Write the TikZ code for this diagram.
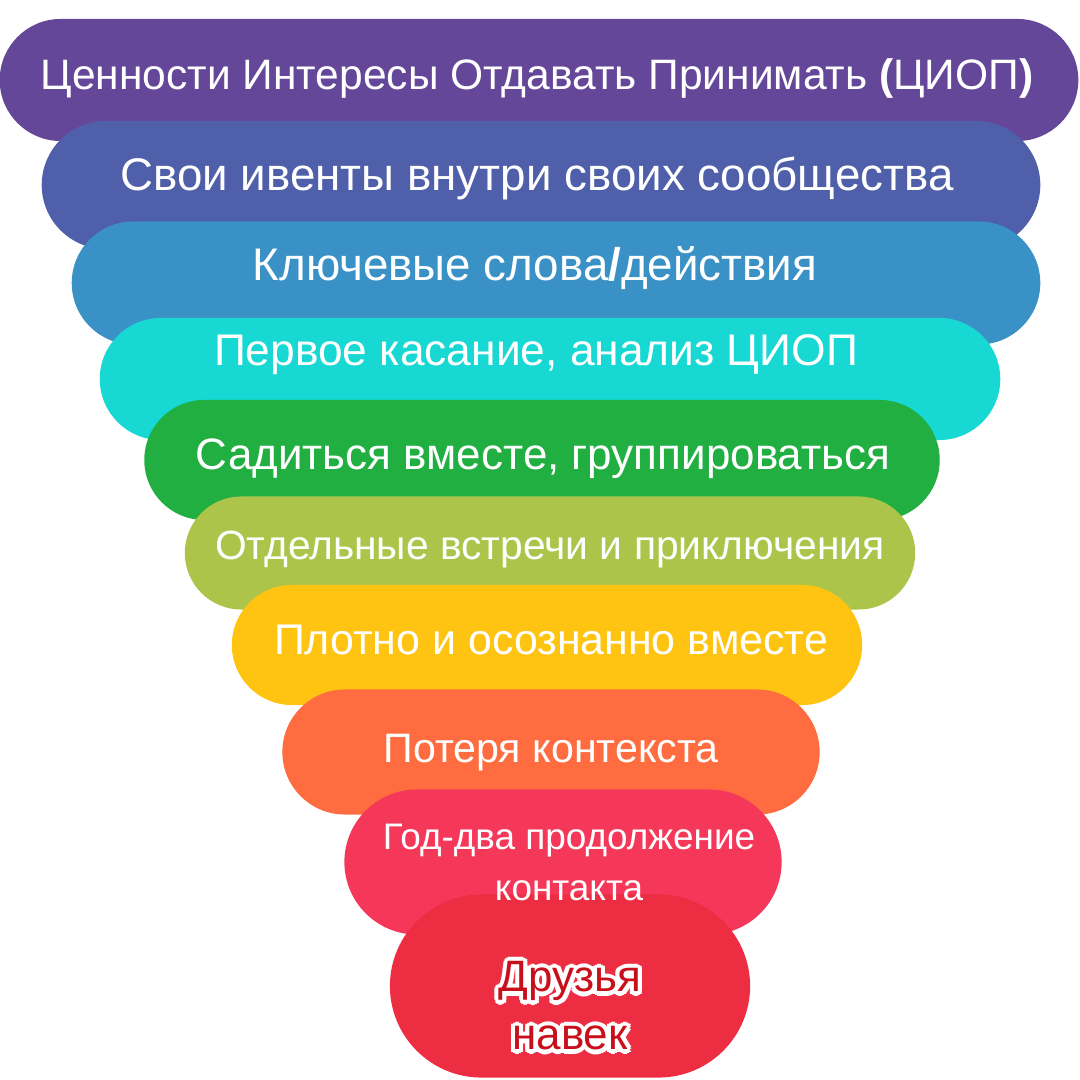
\documentclass[tikz,border=0pt]{standalone}
\usepackage{fontspec}
\setmainfont{Liberation Sans}
\usetikzlibrary{shapes.misc}

\definecolor{purplelayer}{HTML}{65479A}
\definecolor{bluelayer}{HTML}{4F5FA9}
\definecolor{steellayer}{HTML}{3A91C5}
\definecolor{cyanlayer}{HTML}{17D8D3}
\definecolor{greenlayer}{HTML}{20AF40}
\definecolor{olivelayer}{HTML}{ADC44A}
\definecolor{amberlayer}{HTML}{FFC312}
\definecolor{orangelayer}{HTML}{FF6C40}
\definecolor{pinklayer}{HTML}{F5385A}
\definecolor{redlayer}{HTML}{EC2D42}
\definecolor{darkred}{HTML}{C8101C}

\begin{document}
\begin{tikzpicture}[x=0.01cm, y=-0.01cm,
        blob/.style={rounded rectangle, fill=#1, inner sep=0pt},
        txt/.style={text=white, inner sep=0pt, font=\fontsize{#1}{#1}\selectfont}]
        \useasboundingbox (0,0) rectangle (1080,1080);

        % Layers of the funnel
        \node[blob=purplelayer, minimum width=10.78cm, minimum height=1.22cm] (l1) at (539,80) {};
        \node[blob=bluelayer, minimum width=9.98cm, minimum height=1.28cm] (l2) at (541,185) {};
        \node[blob=steellayer, minimum width=9.68cm, minimum height=1.23cm] (l3) at (556,283) {};
        \node[blob=cyanlayer, minimum width=9.00cm, minimum height=1.22cm] (l4) at (550,379) {};
        \node[blob=greenlayer, minimum width=7.95cm, minimum height=1.20cm] (l5) at (542,460) {};
        \node[blob=olivelayer, minimum width=7.30cm, minimum height=1.13cm] (l6) at (550,553) {};
        \node[blob=amberlayer, minimum width=6.30cm, minimum height=1.20cm] (l7) at (547,645) {};
        \node[blob=orangelayer, minimum width=5.37cm, minimum height=1.25cm] (l8) at (551,752) {};
        \node[blob=pinklayer, minimum width=4.37cm, minimum height=1.45cm] (l9) at (563,862) {};
        \node[blob=redlayer, minimum width=3.60cm, minimum height=1.83cm] (l10) at (570,986) {};

        % Labels
        \node[txt=12.1] (t1) at (537,79) {Ценности Интересы Отдавать Принимать \textbf{(}ЦИОП\textbf{)}};
        \node[txt=13] (t2) at (537,178) {Свои ивенты внутри своих сообщества};
        \node[txt=13] (t3) at (535,268) {Ключевые слова\textbf{/}действия};
        \node[txt=12.6] (t4) at (536,355) {Первое касание, анализ ЦИОП};
        \node[txt=12.5] (t5) at (543,459) {Садиться вместе, группироваться};
        \node[txt=11.6] (t6) at (550,549) {Отдельные встречи и приключения};
        \node[txt=12.2] (t7) at (551,640) {Плотно и осознанно вместе};
        \node[txt=11.7] (t8) at (551,753) {Потеря контекста};
        \node[txt=10.5, align=center, font=\fontsize{10.5}{14.5}\selectfont] (t9) at (569,862) {Год-два продолжение\\контакта};

        % Last layer, text with a white halo
        \coordinate (c10) at (570,1006);
        \foreach \a in {0,30,...,330}
            \node[inner sep=0pt, text=white, font=\fontsize{12.5}{16.5}\selectfont, align=center] at ([shift={(\a:1.2pt)}]c10) {Друзья\\навек};
        \node[inner sep=0pt, text=darkred, font=\fontsize{12.5}{16.5}\selectfont, align=center] (t10) at (c10) {Друзья\\навек};
\end{tikzpicture}
\end{document}
